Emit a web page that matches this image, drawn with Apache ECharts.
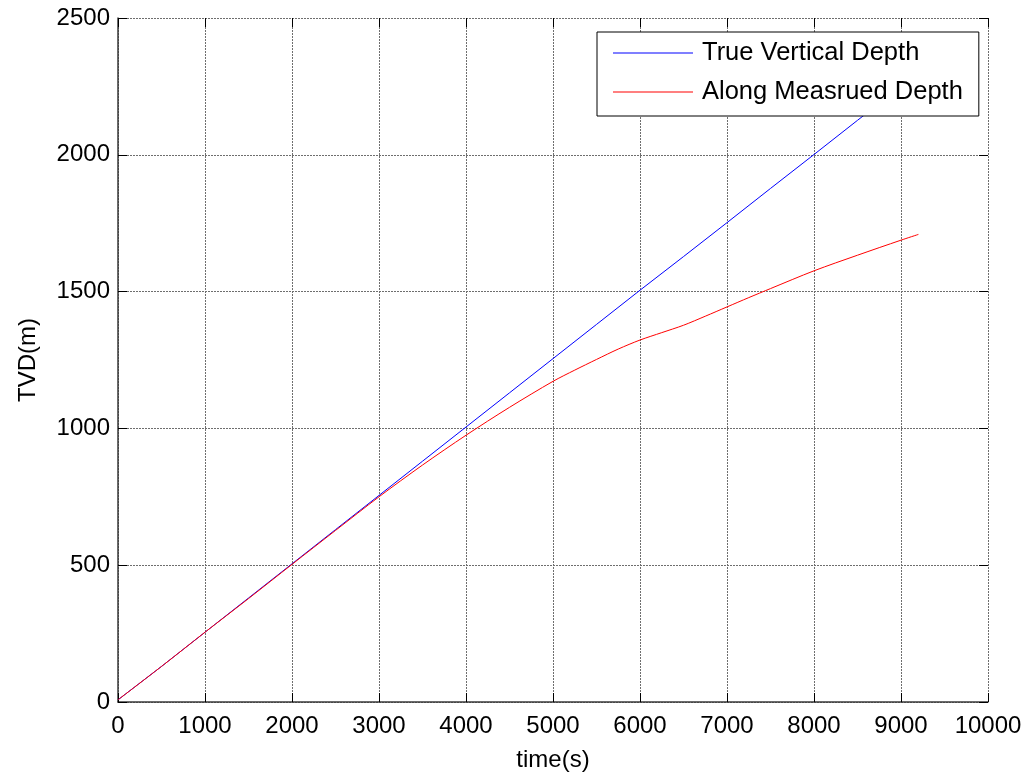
<!DOCTYPE html>
<html>
<head>
<meta charset="utf-8">
<title>TVD vs time</title>
<script src="https://cdn.jsdelivr.net/npm/echarts@6/dist/echarts.min.js"></script>
<style>
  html, body { margin: 0; padding: 0; background: #ffffff; }
  #chart { width: 1035px; height: 782px; }
</style>
</head>
<body>
<div id="chart"></div>
<script>
// Depth readings against elapsed time (s)
const timeTVD = [0, 500, 1000, 1500, 2000, 2500, 3000, 3500, 4000, 4500, 5000, 5500, 6000, 6500, 7000, 7500, 8000, 8500, 9000, 9200];
const trueVerticalDepth = [8, 130, 255, 380, 505, 630, 755, 880, 1005, 1130, 1255, 1380, 1505, 1628, 1752, 1877, 2001, 2126, 2250, 2300];

const timeMD = [0, 500, 1000, 1500, 2000, 2500, 3000, 3500, 4000, 4500, 5000, 5250, 5500, 5750, 6000, 6250, 6500, 6750, 7000, 7250, 7500, 8000, 8500, 9000, 9200];
const alongMeasuredDepth = [8, 130, 255, 378, 503, 627, 750, 866, 975, 1077, 1172, 1213, 1252, 1290, 1323, 1350, 1377, 1410, 1444, 1478, 1511, 1576, 1633, 1688, 1709];

const seriesNames = ['True Vertical Depth', 'Along Measrued Depth'];
const xTicks = { min: 0, max: 10000, interval: 1000 };
const yTicks = { min: 0, max: 2500, interval: 500 };

const FONT = 'Liberation Sans, Arial, Helvetica, sans-serif';
const pairs = (xs, ys) => xs.map((x, i) => [x, ys[i]]);
const plain = v => String(v);

const gridLine = () => ({ show: true, lineStyle: { color: '#6e6e6e', width: 1, type: [2, 1] } });
const innerTick = () => ({ show: true, inside: true, length: 9, lineStyle: { color: '#000', width: 1 } });
const hiddenLine = () => ({ show: true, onZero: false, lineStyle: { color: '#000', opacity: 0, width: 1 } });

const chart = echarts.init(document.getElementById('chart'), null, { renderer: 'canvas' });
chart.setOption({
  animation: false,
  backgroundColor: '#ffffff',
  textStyle: { fontFamily: FONT },
  grid: { left: 118, right: 47, top: 18, bottom: 80, containLabel: false },
  legend: {
    data: seriesNames,
    orient: 'vertical',
    left: 597,
    top: 32,
    icon: 'rect',
    itemWidth: 80,
    itemHeight: 1,
    itemGap: 13,
    padding: [8, 16, 11, 16],
    backgroundColor: '#ffffff',
    borderColor: '#000000',
    borderWidth: 1,
    borderRadius: 0,
    textStyle: { fontFamily: FONT, fontSize: 25.5, color: '#000', lineHeight: 26, padding: [0, 0, 0, 4] }
  },
  xAxis: [
    {
      type: 'value', position: 'bottom',
      min: xTicks.min, max: xTicks.max, interval: xTicks.interval,
      name: 'time(s)', nameLocation: 'middle', nameGap: 46,
      nameTextStyle: { fontFamily: FONT, fontSize: 24, color: '#000' },
      axisLine: { show: true, onZero: false, lineStyle: { color: '#3a3a3a', width: 1.5 } },
      axisTick: innerTick(),
      axisLabel: { fontFamily: FONT, fontSize: 24, color: '#000', margin: 12, formatter: plain },
      splitLine: gridLine()
    },
    {
      type: 'value', position: 'top',
      min: xTicks.min, max: xTicks.max, interval: xTicks.interval,
      axisLine: hiddenLine(),
      axisTick: innerTick(),
      axisLabel: { show: false },
      splitLine: { show: false }
    }
  ],
  yAxis: [
    {
      type: 'value', position: 'left',
      min: yTicks.min, max: yTicks.max, interval: yTicks.interval,
      name: 'TVD(m)', nameLocation: 'middle', nameGap: 78,
      nameTextStyle: { fontFamily: FONT, fontSize: 24, color: '#000' },
      axisLine: { show: true, onZero: false, lineStyle: { color: '#3a3a3a', width: 1.5 } },
      axisTick: innerTick(),
      axisLabel: { fontFamily: FONT, fontSize: 24, color: '#000', margin: 8, formatter: plain },
      splitLine: gridLine()
    },
    {
      type: 'value', position: 'right',
      min: yTicks.min, max: yTicks.max, interval: yTicks.interval,
      axisLine: hiddenLine(),
      axisTick: innerTick(),
      axisLabel: { show: false },
      splitLine: { show: false }
    }
  ],
  series: [
    {
      name: seriesNames[0], type: 'line',
      data: pairs(timeTVD, trueVerticalDepth),
      symbol: 'none', showSymbol: false,
      lineStyle: { color: '#0000ff', width: 1 },
      itemStyle: { color: '#0000ff' },
      z: 2
    },
    {
      name: seriesNames[1], type: 'line',
      data: pairs(timeMD, alongMeasuredDepth),
      symbol: 'none', showSymbol: false,
      smooth: 0.3,
      lineStyle: { color: '#ff0000', width: 1 },
      itemStyle: { color: '#ff0000' },
      z: 3
    }
  ]
});
</script>
</body>
</html>
